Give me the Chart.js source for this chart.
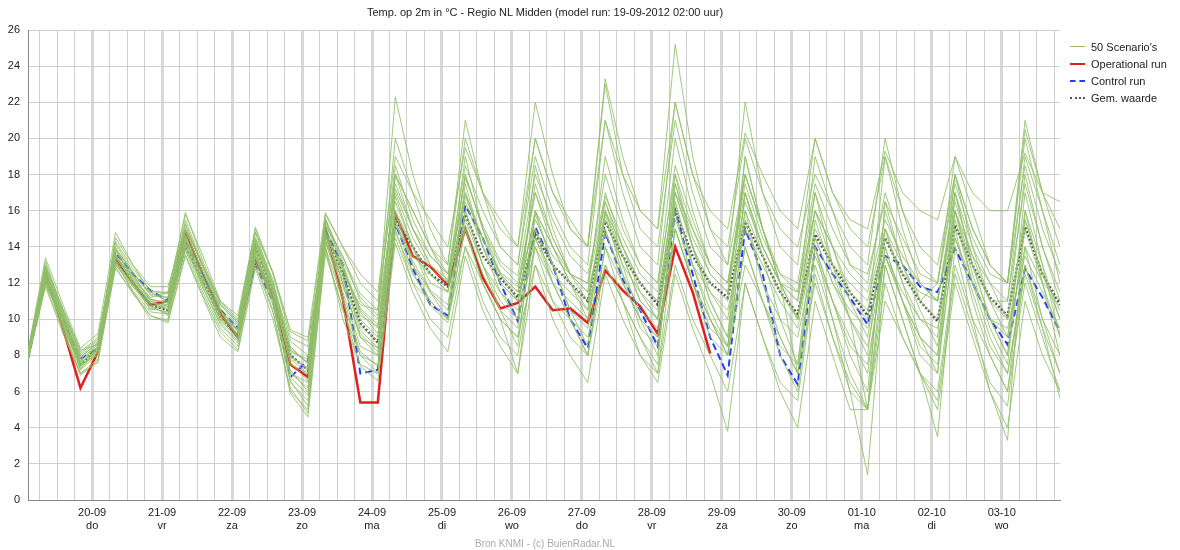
<!DOCTYPE html>
<html><head><meta charset="utf-8">
<script src="https://cdn.jsdelivr.net/npm/chart.js@4"></script>
<style>
body{margin:0;background:#fff;font-family:"Liberation Sans",Arial,sans-serif}
#wrap{position:relative;width:1180px;height:550px}
#title{position:absolute;top:6px;left:0;width:1090px;text-align:center;font-size:11px;color:#222}
#credit{position:absolute;top:538px;left:0;width:1090px;text-align:center;font-size:10px;color:#aaa}
#legend{position:absolute;left:1070px;top:38px;font-size:11px;color:#222}
#legend div{height:17px;display:flex;align-items:center}
#legend span.l{display:inline-block;width:15px;margin-right:6px;height:0}
</style></head><body>
<div id="wrap">
<canvas id="c" width="1180" height="550"></canvas>
<div id="title">Temp. op 2m in °C - Regio NL Midden (model run: 19-09-2012 02:00 uur)</div>
<div id="credit">Bron KNMI - (c) BuienRadar.NL</div>
<div id="legend">
<div><span class="l" style="border-top:1px solid #93bd6e"></span>50 Scenario's</div>
<div><span class="l" style="border-top:2px solid #e02020"></span>Operational run</div>
<div><span class="l" style="border-top:2px dashed #2a3cf0"></span>Control run</div>
<div><span class="l" style="border-top:2px dotted #555"></span>Gem. waarde</div>
</div>
</div>
<script>
const hours = Array.from({length:60},(_,k)=>2+6*k);
const dateLabels = {24:["20-09","do"],48:["21-09","vr"],72:["22-09","za"],96:["23-09","zo"],120:["24-09","ma"],144:["25-09","di"],168:["26-09","wo"],192:["27-09","do"],216:["28-09","vr"],240:["29-09","za"],264:["30-09","zo"],288:["01-10","ma"],312:["02-10","di"],336:["03-10","wo"]};
const operational = [8.0,12.6,9.5,6.2, 8.2,13.3,12.0,10.8, 11.0,14.8,12.5,10.3, 9.0,13.3,11.3,7.5, 6.8,15.0,11.1,5.4, 5.4,15.8,13.5,12.9, 11.9,15.0,12.3,10.6, 10.9,11.8,10.5,10.6, 9.8,12.7,11.6,10.7, 9.2,14.0,11.5,8.1];
const control = [7.8,12.1,10.0,7.8, 8.4,13.7,12.5,11.6, 11.0,14.3,12.5,10.5, 9.5,13.0,11.0,6.8, 7.7,14.9,13.0,7.0, 7.2,15.3,12.8,10.8, 10.2,16.3,14.5,12.0, 9.9,15.1,13.0,10.0, 8.4,14.8,12.2,10.5, 8.5,16.0,12.5,9.0, 6.9,15.0,12.5,8.0, 6.4,14.0,12.5,11.2, 9.7,13.5,13.0,11.8, 11.5,13.9,12.0,10.0, 8.6,12.8,11.2,9.3];
const mean = [8.0,12.3,10.0,7.5, 8.4,13.5,12.0,10.8, 10.5,14.0,12.2,10.2, 9.0,14.0,11.5,8.0, 7.2,14.9,12.5,9.8, 8.7,15.5,14.0,12.5, 11.8,15.8,13.5,12.3, 11.2,14.7,13.0,12.0, 11.0,15.4,13.5,12.0, 10.8,16.0,13.5,12.0, 11.2,15.4,13.5,11.5, 10.3,14.7,13.0,11.5, 10.2,14.5,12.5,11.0, 9.9,15.2,13.0,11.2, 10.2,15.1,12.5,10.8];
const scenarios = [
[8,12.5,10,7.2, 8.5,13.5,12,10.5, 10.8,14.5,12,10, 9.5,14.2,11.5,7.5, 7,15,12,9, 8,16.5,14,12.5, 11.5,17,14,12, 11,15,13,12, 11,16,13.5,11, 10,17,14,12, 11,19,15,12, 10,16,14,11, 9,15,12,10, 9,18,14,11, 9,16,13,10],
[8.2,13,10.5,8, 8.8,14,12.5,11, 11,15,13,10.5, 9,13.5,11,7, 6.5,14.5,13,10, 9,18,15,13, 12,19,15,13, 12,17,14,12.5, 12,18,15,13, 12,20,16,13, 12,17,14,12, 11,16,13,11, 10,19,15,12, 11,17,14,12, 10,18,14,11],
[7.8,12,9.8,7.5, 8,13,11.8,10.8, 10.2,13.8,11.5,9.5, 8.5,13.5,11,6.5, 5.5,14,10,7.5, 7,15,12,11, 10,14,12,10, 9,13,11,10, 8,14,12,10, 9,15,12,10, 8,13,11,9, 7,12,9,6, 5,11,9,7, 6,13,10,8, 6,12,9,6],
[8.1,12.8,10.2,7.8, 8.6,14.5,13,11.5, 11,15.5,13,10.8, 9.8,14.8,12,8.5, 7.5,15.5,13,10.5, 9.5,17.5,15,13.5, 12.5,18.5,16,14, 13,19,16,14, 13,21,17,14, 13,22,18,15, 14,20,17,15, 14,18,16,14, 13,20,16,13, 12,19,16,13, 12,21,17,14],
[7.9,12.2,9.5,7, 7.6,13.2,11.5,10, 10,14.2,11.8,9.8, 8.8,13.8,11,7.2, 6,14.8,11.5,8.5, 8,15.5,13,11.5, 10.5,16,13,11, 10,14,12,11, 10,15,12,10, 9,16,12,9, 8,14,11,8, 6,13,10,7, 5,14,11,8, 7,15,11,8, 6,14,10,7],
[8,13.2,10.5,8.2, 9,13.8,12.2,11.2, 11.5,15.8,13.5,11, 10,14.5,12,8.8, 8,15.2,13.5,11, 10,20,17,14, 12,18,15,12, 11,16,14,12, 10,16,14,12, 11,17,15,13, 12,18,15,12, 11,19,16,13, 12,17,14,11, 10,16,13,11, 11,19,16,13],
[8,12,9.8,7.3, 8.2,13.5,12.2,11, 10.5,14,12,10.2, 9.2,13.2,10.5,6, 5,14,11,8, 7.5,16,13,11, 10,15,12,10, 9,15,12,10, 9,13,11,9, 7,15,12,10, 8,16,12,9, 7,14,11,8, 6,15,12,9, 8,16,12,9, 7,13,10,8],
[8.3,13.4,10.8,8.4, 9.2,14.8,13,11.8, 11.8,15,13,11, 10.2,15,12.5,9, 8.5,15.8,14,12, 11,18,16,14, 13,20,17,14, 13,20,17,15, 14,23,18,15, 14,21,17,14, 13,22,17,14, 13,20,17,15, 14,19,16,14, 13,18,15,13, 12,20,16,12],
[7.7,11.8,9.2,7, 7.8,12.8,11.5,10.2, 9.8,13.5,11.2,9, 8.2,12.8,10,6.2, 4.8,13.8,10.5,8, 7,14.5,12,10, 9,14,11,9, 8,14,11,9, 8,14,11,8, 7,13,10,8, 6,12,9,6, 4,11,8,5, 5,12,9,7, 5,12,9,6, 4,11,8,6],
[8,12.6,10,7.6, 8.4,13.6,12,10.8, 10.6,14.6,12.3,10.2, 9.4,14,11.6,7.8, 7,15.2,12.4,9.6, 8.8,17,14.5,12.8, 12,16.5,14,12.5, 11.5,17.5,14.5,12.5, 11.5,15.5,13,11.5, 10.5,15.5,13,11.5, 10.5,15,13,11, 9.5,14.5,12,10, 8.5,13.5,11,9, 8,15.5,12,10, 9,14,12,9],
[8.2,12.9,10.4,8.1, 8.9,13.9,12.6,11.4, 11.2,15.2,12.8,10.6, 9.7,14.5,12.2,8.2, 7.8,14.6,12.8,10.2, 9.6,14.8,12.5,11, 10,17.5,14,11.5, 10,18.5,15,12.5, 11,16.5,13.5,11, 10,18,14,11, 9,17,14,12, 10,15,13,12, 11,15,13,12, 11,17,13,10, 8,15,12,11],
[7.9,12.4,9.6,7.4, 8.2,13.2,11.8,10.6, 10.4,14.4,12,10, 8.9,13.6,11.2,6.8, 5.8,14.2,11.8,9.2, 8.2,15.2,13.5,12.5, 11.5,18,15,12.5, 11,16,14,12, 10.5,17,14,11.5, 10,16.5,13,10, 8.5,15.5,12,10, 9,13.5,11,9, 7,14,11,9, 7,17,13,10, 8,17,13,9],
[8.1,12.7,10.1,7.9, 8.7,14.2,12.6,11.3, 11.2,14.7,12.4,10.4, 9.6,14.4,11.8,8.4, 7.6,14.4,12.2,9.4, 8.4,15.8,13.2,11.6, 10.8,16.8,14.4,12.6, 11.8,15.5,13.5,12.5, 12,16.5,14,12, 11,17.5,14.5,12.5, 11.5,16.5,14,12, 11.5,17,14,11.5, 10.5,14.5,12.5,11.5, 11,16.5,13.5,11, 10,15.5,12.5,10.5],
[8,12.2,9.9,7.6, 8.3,13.4,12.1,10.9, 10.7,13.9,11.9,10.1, 9.1,13.9,11.4,7.6, 6.6,15.4,12.8,10.4, 9.2,16,14,12, 11.5,15.5,13,11.5, 10.5,14.5,12.5,11.5, 10.5,14.8,12.5,10.5, 9.5,17,14,11.5, 10,16,13.5,11.5, 10,14.5,12,10.5, 9.5,13.5,11.5,10, 9.5,14.5,12,10, 9.5,13.5,11.5,9.5],
[8.2,13,10.3,7.7, 8.5,13.8,12.3,11.1, 10.9,14.9,12.6,10.5, 9.3,14.3,11.7,8, 7.2,15.6,13.2,11.2, 10.2,17.2,15,13, 12.2,17.8,15.2,13.2, 12.4,18,15.5,13.5, 12.5,16.8,14.5,12.5, 11.5,18.5,15.5,13, 12,17.5,14.5,12.5, 11.5,16,14,12.5, 11.5,15.5,13.5,12, 11,16,13.5,12, 11,17.5,14,11.5],
[7.8,12.1,9.7,7.2, 8.1,13.1,11.6,10.4, 10.3,14.1,11.7,9.7, 8.7,13.4,10.8,6.6, 5.2,14.4,11.2,8.2, 7.4,15.4,12.6,10.8, 9.8,15.2,12.5,10.5, 9.5,16,13,10.5, 9.5,15.8,12.5,9.5, 8.5,15,12,9.5, 8.5,14,11,8.5, 7.5,14,11,8.5, 7.5,13.5,11,8.5, 7.5,14.5,11.5,8.5, 7,12.5,9.5,5.6],
[8,12.9,10.6,8.3, 8.6,14.3,12.8,11.6, 11.4,15.9,13.2,10.9, 9.9,15.1,12.6,9.3, 8.8,14.2,12.5,10.8, 10.5,22.3,18,15, 13,21,17,15.5, 14,22,18,15, 14,23.3,19,16, 15,25.2,19,15, 13,18,15,12, 10,17,13,10, 5,16.5,13,11, 12,18,15,13, 12,20.5,17,15],
[7.9,12.3,9.9,7.4, 8.3,13.3,11.9,10.7, 10.3,14.3,12.1,9.9, 9,13.7,11.3,7, 6.2,14.6,12,9, 8.4,18,16,14, 12.5,15,12,10, 7,14.5,12,10, 8,13,11,9, 7.5,17.5,14,11, 9,19,15,12, 7,14,10,6, 1.4,13,10,7, 3.5,14,10,6, 3.3,16,12,8],
[8.1,12.5,10.2,7.7, 8.5,13.5,12.4,11.5, 11.5,15.3,12.9,10.8, 9.8,14.8,12.6,9.4, 9,15.9,14,12.5, 11.5,19,17,15.5, 14,19.5,17,15, 14,20,17,15.5, 14,21,18,16, 15,22,18,16, 15,20.3,18,16, 15,20,17,15.5, 15,19.3,17,16, 15.5,19,17,16, 16,19.2,17,16.5],
[7.8,11.9,9.4,6.9, 7.7,12.9,11.4,10.2, 9.9,13.6,11.3,9.3, 8.3,13,10.4,5.9, 4.6,13.6,10.6,7.4, 6.6,14.2,11.5,9.5, 8.2,13.5,10.5,8.5, 7,13,10,8, 6.5,12.5,10,8, 6.5,12.5,9.5,7, 3.8,12,9,6.5, 5.5,12.5,9,6.5, 5,13,10,7, 5.5,12.5,9.5,6.5, 5.2,13,9.5,7],
[8,12.4,10,7.5, 8.4,13.5,12,10.9, 10.8,14.9,12.6,10.5, 9.4,14.4,11.9,8.3, 7.6,15.5,13.4,11.4, 10.5,18.5,15.5,13.5, 12.5,17,14.5,12.5, 11.5,17,14.5,12.5, 11.5,19,15.5,13, 12,18,15,12.5, 11.5,18,15,12.5, 12,17.5,15,13, 12.5,16.5,14.5,12.5, 12,17.5,14.5,12.5, 12,18.5,15,12.5],
[8.2,12.7,10.3,7.9, 8.7,13.9,12.4,11.1, 10.9,14.5,12.2,10.3, 9.4,14.1,11.7,7.9, 7.3,14.8,12.7,10.6, 9.7,16.8,14,11.5, 10,16,13,10.5, 8.5,15.8,13,10.5, 8.5,16,13,10, 8,16.5,13,10.5, 8.5,17,13.5,10, 7.5,15.5,12.5,10, 8,16,13,10.5, 8.5,16,12.5,9.5, 7.5,15.5,12.5,10]
];
const pts = a => a.map((v,i)=>({x:hours[i],y:v}));
const datasets = [];
scenarios.forEach(s=>datasets.push({data:pts(s),borderColor:'rgba(145,190,105,0.85)',borderWidth:1,pointRadius:0,tension:0}));
datasets.push({data:pts(mean),borderColor:'#555',borderWidth:2.5,borderDash:[2,2],pointRadius:0,tension:0});
datasets.push({data:pts(control),borderColor:'#2a3cf0',borderWidth:2,borderDash:[7,4],pointRadius:0,tension:0});
datasets.push({data:pts(operational),borderColor:'#e02020',borderWidth:2.5,pointRadius:0,tension:0});
new Chart(document.getElementById('c'),{
type:'line',
data:{datasets},
options:{responsive:false,animation:false,
layout:{padding:{left:0,right:120,top:30,bottom:0}},
plugins:{legend:{display:false},tooltip:{enabled:false}},
scales:{
x:{type:'linear',min:2,max:356,
afterBuildTicks:s=>{const t=[];for(let h=6;h<=354;h+=6)t.push({value:h});s.ticks=t;},
afterFit:s=>{s.height=50;},
border:{color:'#888',width:1},
grid:{color:c=>c.tick&&c.tick.value%24===0?'#d8d8d8':'#cfcfcf',lineWidth:c=>c.tick&&c.tick.value%24===0?3:1,drawTicks:false},
ticks:{autoSkip:false,maxRotation:0,padding:6,color:'#222',font:{size:11,family:'Liberation Sans'},callback:v=>dateLabels[v]||''}},
y:{min:0,max:26,afterFit:s=>{s.width=28;},
border:{color:'#888',width:1},
grid:{color:'#cfcfcf',drawTicks:false},
ticks:{stepSize:2,padding:8,color:'#222',font:{size:11,family:'Liberation Sans'}}}
}}});
</script></body></html>
